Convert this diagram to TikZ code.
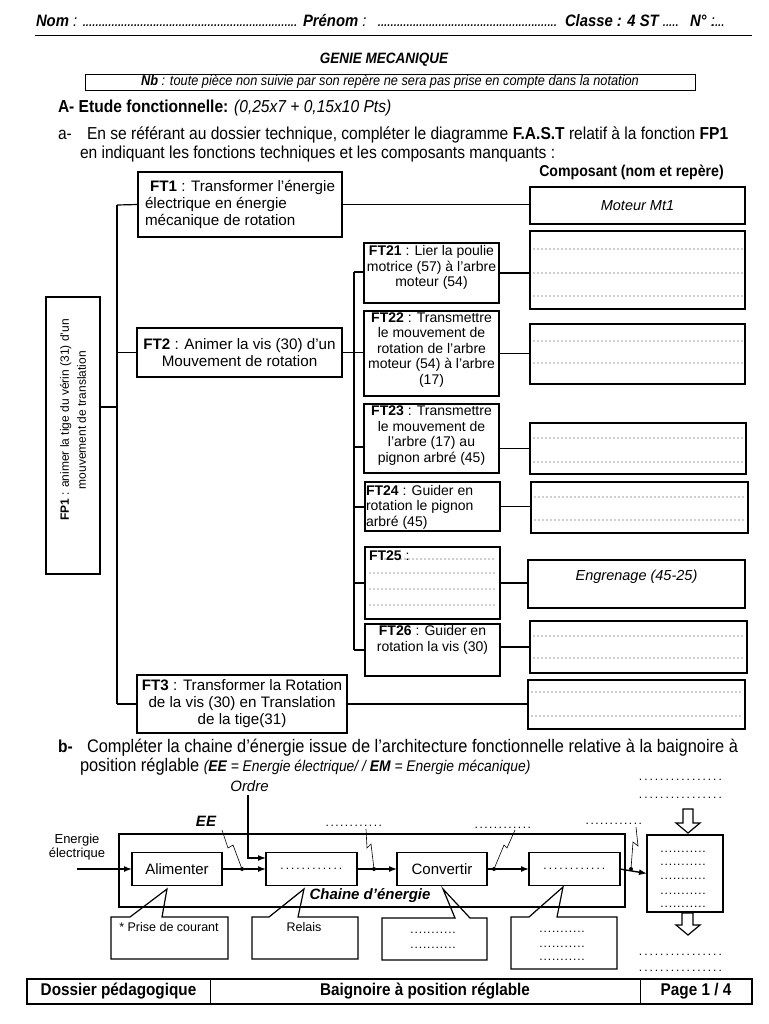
\documentclass[tikz,border=0pt]{standalone}
\usepackage{fontspec}
\setmainfont{Liberation Sans}
\newfontfamily\nar[FakeStretch=0.9]{Liberation Sans}
\usetikzlibrary{arrows.meta}
\newcommand\lead[2]{\hbox to #1{\leaders\hbox to #2{\hss.\hss}\hfill}}
\newcommand\fs[2]{\fontsize{#1}{#2}\selectfont}
\begin{document}
\begin{tikzpicture}[x=1pt,y=-1pt,
 every node/.style={inner sep=0pt,outer sep=0pt},
 fb/.style={draw,line width=1.3pt,align=center,font=\fs{15.2}{17}},
 sb/.style={draw,line width=1.3pt},
 st/.style={align=center,font=\fs{14}{15.5}},
 cb/.style={draw,line width=1.4pt},
 conn/.style={line width=1.2pt},
 dotl/.style={line width=1.1pt,line cap=round,dash pattern=on 0pt off 4pt,black!80},
 ch/.style={draw,line width=1.5pt,font=\fs{15}{18}},
 ea/.style={line width=1.4pt,-{Latex[length=8pt,width=6pt]}},
 zig/.style={line width=0.6pt},
 jdot/.style={circle,fill=black,minimum size=4pt},
 bub/.style={draw,line width=1.2pt,line join=miter},
 hd/.style={anchor=base west,font=\nar\fs{16.5}{19}\itshape},
 tx/.style={anchor=base west,font=\nar\fs{17.3}{19}},
 drow/.style={anchor=base,font=\fs{12}{12}},
]
\useasboundingbox (0,0) rectangle (768,1024);
\fill[white] (0,0) rectangle (768,1024);

% ---------- header ----------
\node[hd] (h1) at (36,27) {\textbf{Nom} :};
\node[hd] (h2) at (83,27) {\lead{217pt}{3.2pt}};
\node[hd] (h3) at (303,27) {\textbf{Prénom} :};
\node[hd] (h4) at (378,27) {\lead{180pt}{3.2pt}};
\node[hd] (h5) at (565,27) {\textbf{Classe : 4 ST}};
\node[hd] (h6) at (663,27) {\lead{17pt}{3.2pt}};
\node[hd] (h7) at (690,27) {\textbf{N°} :};
\node[hd] (h8) at (712,27) {\lead{15pt}{3.2pt}};
\draw[line width=1pt] (35,36) -- (752,36);

\node[font=\nar\fs{15}{18}\bfseries\itshape] (title) at (384,60) {GENIE MECANIQUE};
\node[draw,line width=0.9pt,minimum width=610,minimum height=16,font=\nar\fs{14.2}{16}\itshape] (nb) at (390,82)
  {\textbf{Nb} : toute pièce non suivie par son repère ne sera pas prise en compte dans la notation};

\node[tx] (A) at (58,113) {\textbf{A- Etude fonctionnelle:} \textit{(0,25x7 + 0,15x10 Pts)}};
\node[tx] (a1) at (58,140) {a-};
\node[tx] (a2) at (87,140) {En se référant au dossier technique, compléter le diagramme \textbf{F.A.S.T} relatif à la fonction \textbf{FP1}};
\node[tx] (a3) at (80,159) {en indiquant les fonctions techniques et les composants manquants :};
\node[font=\nar\fs{15.7}{18}\bfseries] (comp) at (631.5,172) {Composant (nom et repère)};

% ---------- FAST ----------
\node[draw,line width=1.6pt,minimum width=54,minimum height=277] (fp1) at (73,435.5) {};
\node[rotate=90,align=center,font=\fs{12}{17}] (fp1t) at (73,420)
  {\textbf{FP1} : animer la tige du vérin (31) d'un\\mouvement de translation};

\coordinate (va) at (117,205);
\coordinate (vb) at (117,704);
\coordinate (vf) at (117,407);
\coordinate (v2) at (117,352.5);
\draw[line width=1.8pt] (va) -- (vb);
\draw[conn] (fp1.east |- vf) -- (vf);

\node[fb,align=left,minimum width=204,minimum height=65] (ft1) at (240,204.5)
  {\hspace*{5pt}\textbf{FT1} : Transformer l’énergie\\électrique en énergie\\mécanique de rotation};
\draw[conn] (va) -- (ft1.west);
\node[fb,minimum width=205,minimum height=49] (ft2) at (239.5,352.5)
  {\textbf{FT2} : Animer la vis (30) d’un\\Mouvement de rotation};
\draw[conn] (v2) -- (ft2.west);
\node[fb,minimum width=210,minimum height=58] (ft3) at (242,704)
  {\textbf{FT3} : Transformer la Rotation\\de la vis (30) en Translation\\de la tige(31)};
\draw[conn] (vb) -- (ft3.west);

\coordinate (wa) at (354,272);
\coordinate (wb) at (354,650);
\coordinate (w23) at (354,447);
\coordinate (w24) at (354,507);
\coordinate (w25) at (354,583);
\draw[line width=1.5pt] (wa) -- (wb);

\node[sb,minimum width=135,minimum height=60] (ft21) at (431.5,273) {};
\node[st] (ft21t) at (431.5,267.5) {\textbf{FT21} : Lier la poulie\\motrice (57) à l’arbre\\moteur (54)};
\draw[conn] (wa) -- (ft21.west |- wa);

\node[sb,minimum width=135,minimum height=85] (ft22) at (431.5,353.5) {};
\node[st] (ft22t) at (431.5,350) {\textbf{FT22} : Transmettre\\le mouvement de\\rotation de l'arbre\\moteur (54) à l'arbre\\(17)};
\draw[conn] (ft2.east) -- (ft2.east -| ft22.west);

\node[sb,minimum width=135,minimum height=69] (ft23) at (431.5,438.5) {};
\node[st] (ft23t) at (431.5,435.5) {\textbf{FT23} : Transmettre\\le mouvement de\\l'arbre (17) au\\pignon arbré (45)};
\draw[conn] (w23) -- (ft23.west |- w23);

\node[sb,minimum width=135,minimum height=49] (ft24) at (432.5,506.5) {};
\node[st,align=left,anchor=west] (ft24t) at (366,507) {\textbf{FT24} : Guider en\\rotation le pignon\\arbré (45)};
\draw[conn] (w24) -- (ft24.west |- w24);

\node[sb,minimum width=135,minimum height=72] (ft25) at (432.5,583) {};
\node[anchor=base west,font=\fs{14}{15.5}] (ft25t) at (369,560) {\textbf{FT25} :};
\draw[dotl] (385,559) -- (496,559);
\draw[dotl] (370,573) -- (496,573);
\draw[dotl] (370,589) -- (496,589);
\draw[dotl] (370,605) -- (496,605);
\draw[conn] (w25) -- (ft25.west |- w25);

\node[sb,minimum width=135,minimum height=52] (ft26) at (432.5,650) {};
\node[st] (ft26t) at (432.5,640) {\textbf{FT26} : Guider en\\rotation la vis (30)};
\draw[conn] (wb) -- (ft26.west);

% components
\node[cb,minimum width=215,minimum height=37,font=\fs{14.5}{17}\itshape] (mot) at (637.5,205.5) {Moteur Mt1};
\draw[conn] (ft1.east) -- (ft1.east -| mot.west);

\node[cb,minimum width=215,minimum height=78] (b21) at (637.5,270) {};
\draw[dotl] (534,249) -- (742,249);
\draw[dotl] (534,273) -- (742,273);
\draw[dotl] (534,296) -- (742,296);
\draw[conn] (ft21.east) -- (ft21.east -| b21.west);

\node[cb,minimum width=215,minimum height=60] (b22) at (637.5,354) {};
\draw[dotl] (534,341) -- (742,341);
\draw[dotl] (534,363) -- (742,363);
\draw[conn] (ft22.east) -- (ft22.east -| b22.west);

\node[cb,minimum width=216,minimum height=51] (b23) at (638,448.5) {};
\draw[dotl] (534,438) -- (742,438);
\draw[dotl] (534,462) -- (742,462);
\draw[conn] (b23.west -| ft23.east) -- (b23.west);

\node[cb,minimum width=217,minimum height=51] (b24) at (639.5,507.5) {};
\draw[dotl] (535,497) -- (744,497);
\draw[dotl] (535,520) -- (744,520);
\draw[conn] (ft24.east) -- (ft24.east -| b24.west);

\node[cb,minimum width=217,minimum height=48] (b25) at (636.5,584) {};
\node[font=\fs{14.5}{17}\itshape] (b25t) at (636.5,577) {Engrenage (45-25)};
\draw[conn] (ft25.east) -- (ft25.east -| b25.west);

\node[cb,minimum width=217,minimum height=52] (b26) at (638.5,647) {};
\draw[dotl] (534,636) -- (743,636);
\draw[dotl] (534,658) -- (743,658);
\draw[conn] (b26.west -| ft26.east) -- (b26.west);

\node[cb,minimum width=217,minimum height=49] (b3) at (636.5,704.5) {};
\draw[dotl] (532,692) -- (741,692);
\draw[dotl] (532,716) -- (741,716);
\draw[conn] (ft3.east) -- (ft3.east -| b3.west);

% ---------- part b ----------
\node[tx] (b1) at (58,752) {\textbf{b-}};
\node[tx,font=\nar\fs{18.2}{19}] (b2) at (87,752) {Compléter la chaine d’énergie issue de l’architecture fonctionnelle relative à la baignoire à};
\node[tx,font=\nar\fs{18.2}{19}] (b3t) at (80,771) {position réglable {\fs{15.4}{19}\itshape(\textbf{EE} = Energie électrique/ / \textbf{EM} = Energie mécanique)}};

% energy chain
\node[draw,line width=2pt,minimum width=506,minimum height=73] (chain) at (372,870.5) {};
\node[font=\fs{15}{18}\bfseries\itshape] (chtxt) at (370,896) {Chaine d’énergie};

\node[ch,minimum width=90,minimum height=33] (alim) at (177,869) {Alimenter};
\node[ch,minimum width=91,minimum height=33,font=\fs{12}{12}] (bx2) at (311.5,869) {\lead{64pt}{5.3pt}};
\node[ch,minimum width=90,minimum height=33] (conv) at (442,869) {Convertir};
\node[ch,minimum width=91,minimum height=33,font=\fs{12}{12}] (bx4) at (574.5,869) {\lead{64pt}{5.3pt}};
\node[ch,minimum width=76,minimum height=77] (big) at (685,873.5) {};

\node[align=center,font=\fs{13}{14.5}] (ein) at (77,847) {Energie\\électrique};
\coordinate (inp) at (77,869);
\draw[ea] (inp) -- (alim.west);

\node[jdot] (d1) at (242,869) {};
\node[jdot] (d2) at (374,869) {};
\node[jdot] (d3) at (494,869) {};
\node[jdot] (d4) at (631,869) {};
\draw[ea] (alim.east) -- (bx2.west);
\draw[ea] (bx2.east) -- (conv.west);
\draw[ea] (conv.east) -- (bx4.west);
\draw[ea] (bx4.east) -- (big.west);

\node[font=\fs{15}{18}\itshape] (ordre) at (249.5,786) {Ordre};
\coordinate (o1) at (248,795);
\coordinate (o2) at (266,858);
\draw[ea] (o1) |- (o2);

\node[font=\fs{15}{18}\bfseries\itshape] (ee) at (206,821) {EE};
\node[drow] (l2) at (354,826) {\lead{58pt}{4.8pt}};
\node[drow] (l3) at (503,828) {\lead{58pt}{4.8pt}};
\node[drow] (l4) at (614,824) {\lead{58pt}{4.8pt}};
\draw[zig] (222,830) -- (228,848) -- (233,845) -- (d1);
\draw[zig] (366,829) -- (367,848) -- (371,844) -- (d2);
\draw[zig] (515,830) -- (507,848) -- (504,845) -- (d3);
\draw[zig] (636,827) -- (638,846) -- (633,842) -- (d4);

% big box rows
\node[drow] (g1) at (685,852) {\lead{50pt}{4.2pt}};
\node[drow] (g2) at (685,865) {\lead{50pt}{4.2pt}};
\node[drow] (g3) at (685,879) {\lead{50pt}{4.2pt}};
\node[drow] (g4) at (685,894) {\lead{50pt}{4.2pt}};
\node[drow] (g5) at (685,907) {\lead{50pt}{4.2pt}};
% rows above and below
\node[drow] (t1) at (683,780) {\lead{90pt}{5.3pt}};
\node[drow] (t2) at (683,798) {\lead{90pt}{5.3pt}};
\node[drow] (u1) at (683,955) {\lead{90pt}{5.3pt}};
\node[drow] (u2) at (683,971) {\lead{90pt}{5.3pt}};

% hollow arrows
\draw[line width=1.2pt,fill=white,line join=miter] (683,809) -- (693,809) -- (693,823) -- (700,823) -- (688,833) -- (676,823) -- (683,823) -- cycle;
\draw[line width=1.2pt,fill=white,line join=miter] (682,913) -- (693,913) -- (693,925) -- (700,925) -- (688,935) -- (676,925) -- (682,925) -- cycle;

% callouts
\draw[bub] (111,917) -- (130,917) -- (167,889) -- (162,917) -- (228,917) -- (228,959) -- (111,959) -- cycle;
\node[font=\fs{12.5}{14}] (c1t) at (169,927) {* Prise de courant};
\draw[bub] (252,917) -- (269,917) -- (304,889) -- (298,917) -- (358,917) -- (358,959) -- (252,959) -- cycle;
\node[font=\fs{12.5}{14}] (c2t) at (304,927) {Relais};
\draw[bub] (382,918) -- (455,918) -- (443,889) -- (470,918) -- (487,918) -- (487,960) -- (382,960) -- cycle;
\node[drow] (c3a) at (435,933) {\lead{50pt}{4.2pt}};
\node[drow] (c3b) at (435,948) {\lead{50pt}{4.2pt}};
\draw[bub] (511,917) -- (529,917) -- (563,887) -- (557,917) -- (617,917) -- (617,969) -- (511,969) -- cycle;
\node[drow] (c4a) at (564,932) {\lead{50pt}{4.2pt}};
\node[drow] (c4b) at (564,947) {\lead{50pt}{4.2pt}};
\node[drow] (c4c) at (564,960) {\lead{50pt}{4.2pt}};

% ---------- footer ----------
\node[draw,line width=1.6pt,minimum width=725,minimum height=25] (foot) at (389.5,991.5) {};
\draw[line width=1pt] (210,979) -- (210,1004);
\draw[line width=1pt] (640,979) -- (640,1004);
\node[font=\nar\fs{17}{19}\bfseries] (f1) at (118.5,991.5) {Dossier pédagogique};
\node[font=\nar\fs{17}{19}\bfseries] (f2) at (425,991.5) {Baignoire à position réglable};
\node[font=\nar\fs{17}{19}\bfseries] (f3) at (696,991.5) {Page 1 / 4};
\end{tikzpicture}
\end{document}
